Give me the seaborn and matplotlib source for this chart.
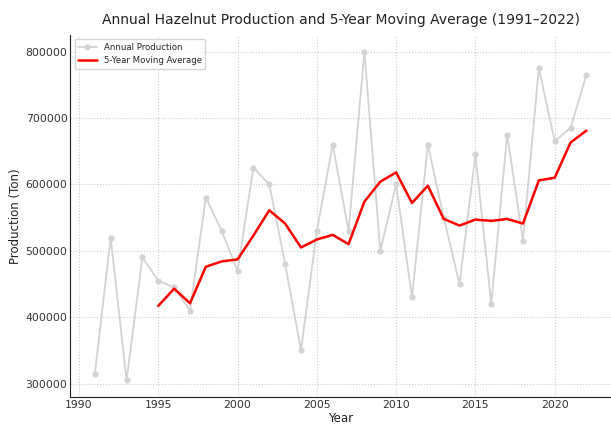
import matplotlib
matplotlib.use("Agg")
import matplotlib.pyplot as plt
import seaborn as sns
import pandas as pd

# annual hazelnut production (tons)
years = list(range(1991, 2023))
production = [315000, 520000, 305000, 490000, 455000, 445000, 410000, 580000,
              530000, 470000, 625000, 600000, 480000, 350000, 530000, 660000,
              530000, 800000, 500000, 600000, 430000, 660000, 550000, 450000,
              645000, 420000, 675000, 515000, 775000, 665000, 685000, 765000]

df = pd.DataFrame({"Year": years, "Production": production})
df["MA5"] = df["Production"].rolling(5).mean()

sns.set_style("white")
plt.rcParams["font.family"] = ["DejaVu Sans"]
plt.rcParams["xtick.direction"] = "in"
plt.rcParams["ytick.direction"] = "in"

fig = plt.figure(figsize=(6.11, 4.28), dpi=100)
ax = fig.add_axes([0.115, 0.073, 0.885, 0.845])

sns.lineplot(data=df, x="Year", y="Production", ax=ax, color="lightgray",
             marker="o", markersize=4.5, markeredgewidth=0, linewidth=1.3,
             label="Annual Production")
sns.lineplot(data=df, x="Year", y="MA5", ax=ax, color="red", linewidth=1.8,
             label="5-Year Moving Average")

ax.grid(True, linestyle=":", color="#cccccc", linewidth=0.8)
ax.set_xticks([1990, 1995, 2000, 2005, 2010, 2015, 2020])
ax.tick_params(labelsize=7.8, length=3, pad=2, colors="#333333")
ax.ticklabel_format(axis="y", style="plain")
for s in ["top", "right"]:
    ax.spines[s].set_visible(False)
for s in ["left", "bottom"]:
    ax.spines[s].set_color("#222222")

ax.set_title("Annual Hazelnut Production and 5-Year Moving Average (1991\u20132022)",
             fontsize=10, color="#222222", pad=8)
ax.set_xlabel("Year", fontsize=8.5, color="#222222", labelpad=2)
ax.set_ylabel("Production (Ton)", fontsize=8.5, color="#222222")
ax.yaxis.set_label_coords(-0.09, 0.5)
ax.legend(loc="upper left", fontsize=6.2, frameon=True, handlelength=2.2)

fig.savefig("out.png", dpi=100)
